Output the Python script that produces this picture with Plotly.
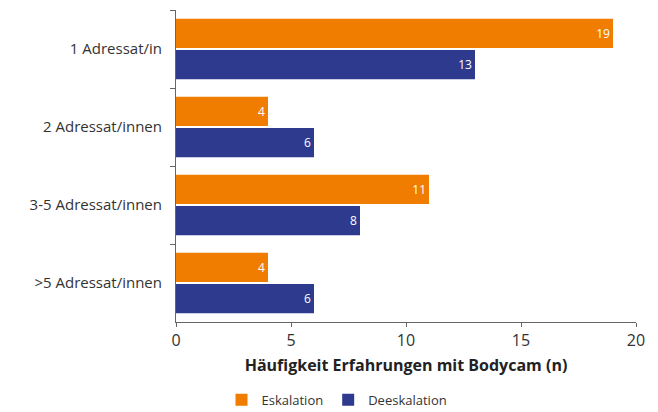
import plotly.graph_objects as go

categories = ["1 Adressat/in", "2 Adressat/innen", "3-5 Adressat/innen", ">5 Adressat/innen"]
eskalation = [19, 4, 11, 4]
deeskalation = [13, 6, 8, 6]
x_ticks = [0, 5, 10, 15, 20]

orange = "#F07D00"
navy = "#2E3A8E"
font = "Open Sans"

fig = go.Figure()
fig.add_trace(go.Bar(
    y=categories, x=eskalation, name="Eskalation", orientation="h",
    marker=dict(color=orange, line=dict(width=0)),
    text=eskalation, textposition="inside", insidetextanchor="end",
    textfont=dict(color="white", size=12, family=font),
))
fig.add_trace(go.Bar(
    y=categories, x=deeskalation, name="Deeskalation", orientation="h",
    marker=dict(color=navy, line=dict(width=0)),
    text=deeskalation, textposition="inside", insidetextanchor="end",
    textfont=dict(color="white", size=12, family=font),
))

# page has an 8px default body margin, so the figure is shrunk to fit the window
fig.update_layout(
    width=650, height=404,
    margin=dict(l=168, r=22, t=2, b=90, autoexpand=False),
    paper_bgcolor="white", plot_bgcolor="white",
    barmode="group", bargap=0.2, bargroupgap=0.06,
    font=dict(family=font, size=15, color="#333333"),
    showlegend=True,
    legend=dict(orientation="h", x=0.35, xanchor="center", yref="container", y=0.03, yanchor="middle",
                font=dict(size=13, color="#333333"), traceorder="normal",
                itemwidth=30),
    uniformtext=dict(minsize=8, mode="show"),
)
fig.update_xaxes(
    range=[0, 20], tickvals=x_ticks, ticktext=[str(v) for v in x_ticks],
    showgrid=False, zeroline=False, showline=True, linecolor="#666666", linewidth=1,
    ticks="outside", ticklen=4, tickcolor="#666666", automargin=False,
    title=dict(text="<b>Häufigkeit Erfahrungen mit Bodycam (n)</b>", font=dict(size=16, color="#222222"), standoff=9),
    tickfont=dict(size=16, color="#333333"),
)
fig.update_yaxes(
    categoryorder="array", categoryarray=categories, autorange="reversed",
    showgrid=False, showline=True, linecolor="#666666", linewidth=1,
    ticks="outside", ticklen=5, tickcolor="#666666", tickson="boundaries",
    tickfont=dict(size=15, color="#333333"), ticklabelstandoff=10, automargin=False,
)

fig.write_html("out.html")
